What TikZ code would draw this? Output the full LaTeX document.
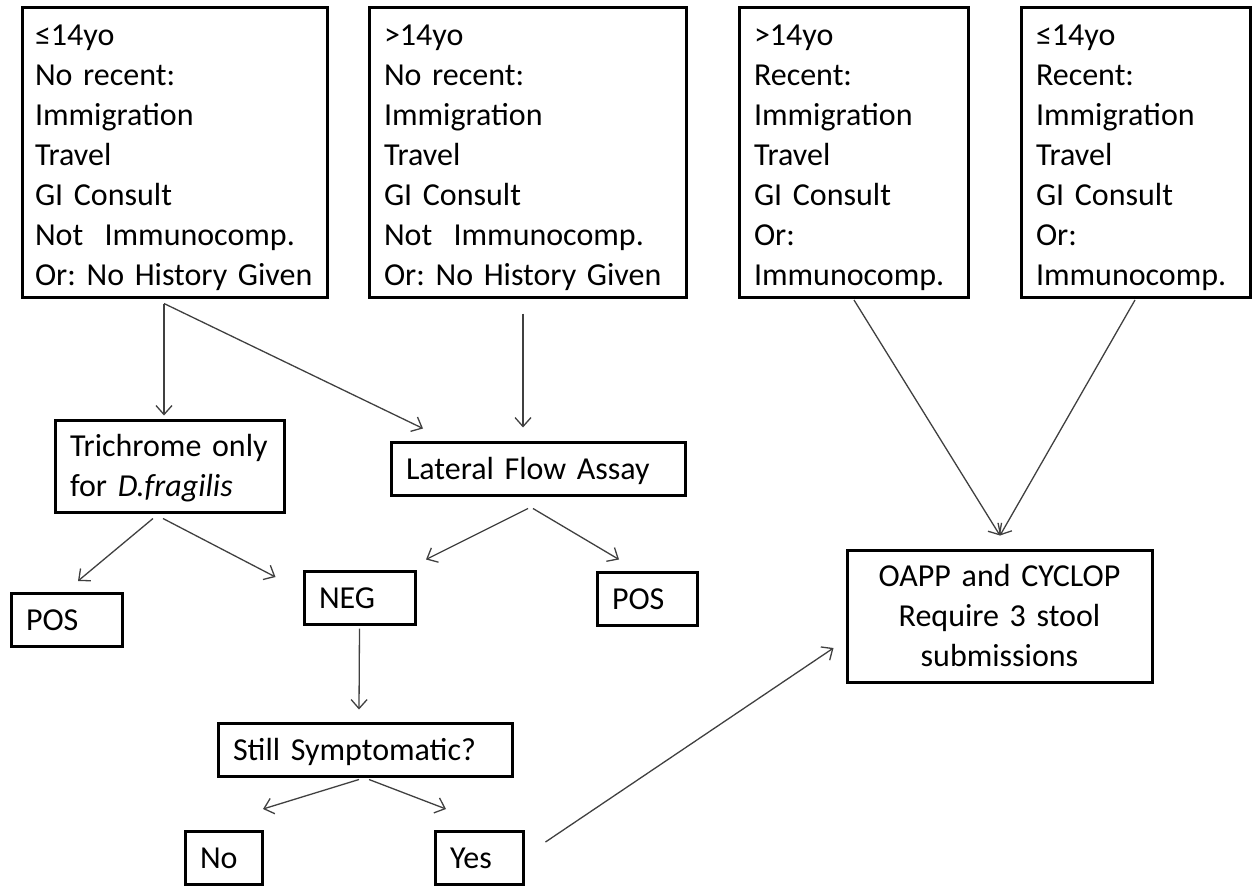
\documentclass[tikz,border=0pt]{standalone}
\usepackage{fontspec}
\setmainfont{Carlito}[WordSpace=0.75]
\usetikzlibrary{arrows.meta,calc}

\begin{document}
\begin{tikzpicture}[x=1pt,y=-1pt,
    box/.style={draw,line width=3pt,inner xsep=15pt,inner ysep=0pt,align=left,
      font=\fontsize{32}{40}\selectfont\frenchspacing},
    tallbox/.style={box,text width=#1,minimum height=290pt},
    onebox/.style={box,text width=#1,text height=21pt,text depth=0pt,minimum height=53pt},
    arr/.style={draw=black!75,line width=1.3pt,-{Straight Barb[length=9pt,width=16pt]}}]
  \useasboundingbox (0,0) rectangle (1254,886);

  \node[tallbox=279pt,inner xsep=13pt] (young) at (174.5,152) {\rule{0pt}{32pt}≤14yo\\No recent:\\Immigration\\Travel\\GI Consult\\Not~~Immunocomp.\\Or: No History Given};
  \node[tallbox=287pt] (old) at (527.5,152) {\rule{0pt}{32pt}>14yo\\No recent:\\Immigration\\Travel\\GI Consult\\Not~~Immunocomp.\\Or: No History Given};
  \node[tallbox=199pt] (oldrec) at (853.5,152.5) {\rule{0pt}{32pt}>14yo\\Recent:\\Immigration\\Travel\\GI Consult\\Or:\\Immunocomp.};
  \node[tallbox=199pt] (youngrec) at (1135.5,152.5) {\rule{0pt}{32pt}≤14yo\\Recent:\\Immigration\\Travel\\GI Consult\\Or:\\Immunocomp.};

  \node[box,text width=199pt,minimum height=92pt] (tri) at (169.5,466) {\rule{0pt}{26pt}Trichrome only\\for \textit{D.fragilis}};
  \node[onebox=264pt] (lfa) at (538,468.5) {Lateral Flow Assay};
  \node[onebox=81pt] (posl) at (66.5,620) {POS};
  \node[onebox=81pt] (neg) at (359.5,597.5) {NEG};
  \node[onebox=70pt] (posr) at (647,598.5) {POS};
  \node[onebox=264pt] (symp) at (365,749.5) {Still Symptomatic?};
  \node[onebox=47pt] (no) at (223.5,858) {No};
  \node[onebox=58pt] (yes) at (479,858) {Yes};
  \node[box,align=center,text width=275pt,minimum height=132pt] (oapp) at (999.5,616) {OAPP and CYCLOP\\Require 3 stool\\submissions};

  \draw[arr] ($(young.south)+(-10.5,5)$) -- ($(tri.north)+(-5.5,-3)$);
  \draw[arr] ($(young.south)+(-10.5,5)$) -- ($(lfa.north)+(-115,-12)$);
  \draw[arr] ($(old.south)+(-4.5,15)$) -- ($(lfa.north)+(-15,-13)$);
  \draw[arr] ($(oldrec.south)+(0.5,1)$) -- ($(oapp.north)+(0.5,-13)$);
  \draw[arr] ($(youngrec.south)+(-0.5,1)$) -- ($(oapp.north)+(0.5,-13)$);
  \draw[arr] ($(tri.south)+(-16.5,5)$) -- ($(posl.north)+(11.5,-11)$);
  \draw[arr] ($(tri.south)+(-6.5,5)$) -- ($(neg.west)+(-27,-20.5)$);
  \draw[arr] ($(lfa.south)+(-10,12)$) -- ($(neg.north)+(66.5,-10)$);
  \draw[arr] ($(lfa.south)+(-5,12)$) -- ($(posr.north)+(-28,-11)$);
  \draw[arr] ($(neg.south)+(0,3)$) -- ($(symp.north)+(-6,-12)$);
  \draw[arr] ($(symp.south)+(-6,2)$) -- ($(no.north)+(39.5,-21)$);
  \draw[arr] ($(symp.south)+(4,2)$) -- ($(yes.north)+(-33,-21)$);
  \draw[arr] ($(yes.east)+(21,-16)$) -- ($(oapp.west)+(-12,32)$);
\end{tikzpicture}
\end{document}
